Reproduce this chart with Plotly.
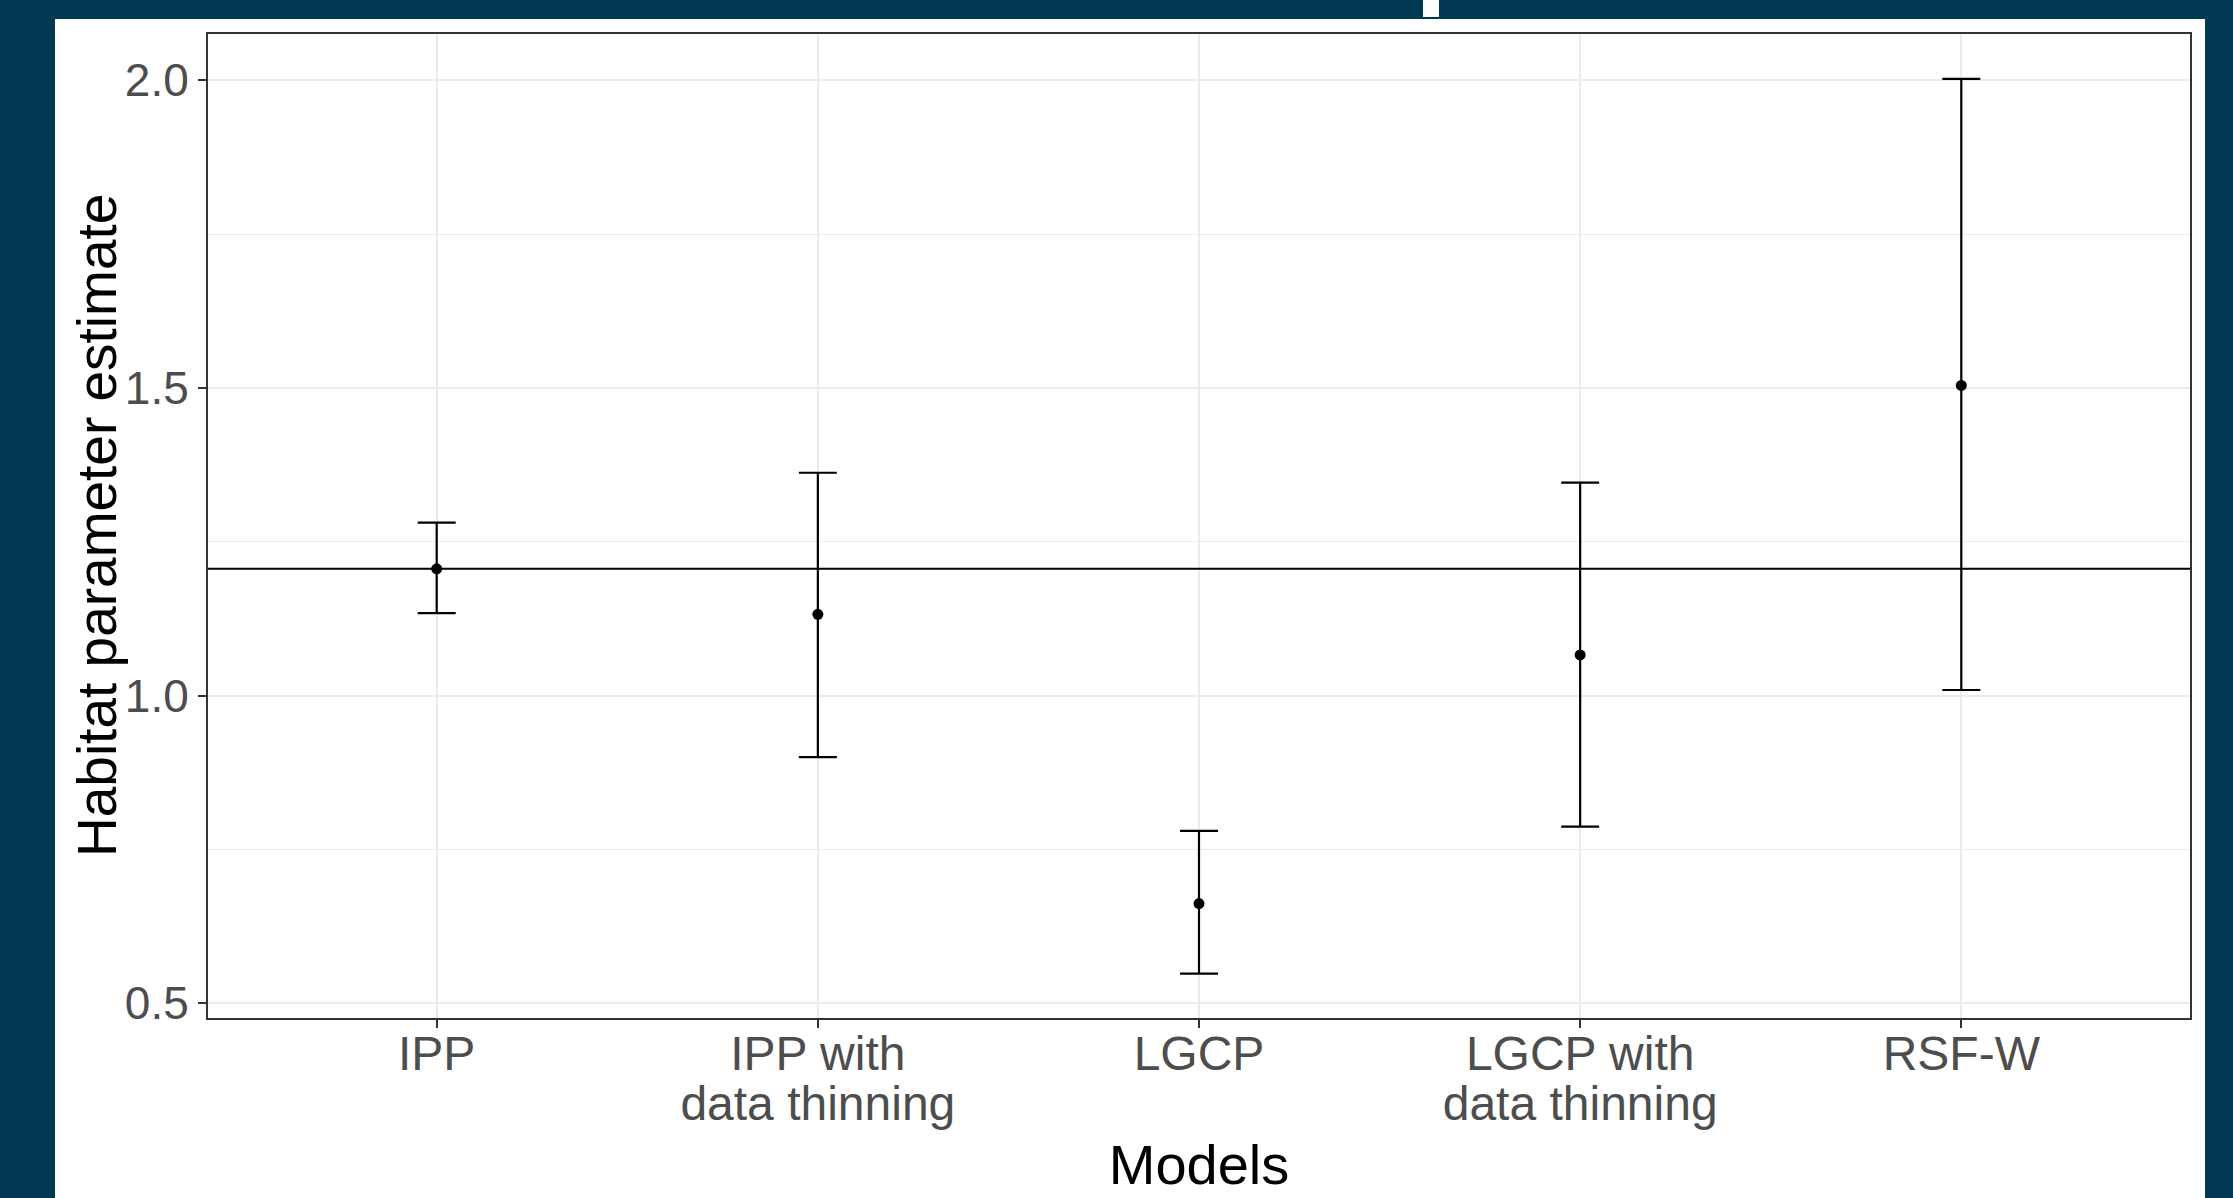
import plotly.graph_objects as go

# ---- data ----
models = ["IPP", "IPP with<br>data thinning", "LGCP", "LGCP with<br>data thinning", "RSF-W"]
estimate = [1.206, 1.132, 0.662, 1.066, 1.504]
lower = [1.134, 0.900, 0.548, 0.787, 1.009]
upper = [1.281, 1.362, 0.780, 1.346, 2.002]
true_value = 1.206
y_ticks = [0.5, 1.0, 1.5, 2.0]
y_tick_labels = ["0.5", "1.0", "1.5", "2.0"]

# ---- layout constants ----
W, H = 2233, 1198
ML, MR, MT, MB = 208, 43, 34, 180
FRAME = "#023952"
FONT = "Liberation Sans, Arial, Helvetica, sans-serif"
TICK_PX = 46          # glyph size of y tick labels
XTICK_PX = 48         # glyph size of x tick labels
LINE_BASE = 38.5      # base size -> controls line spacing of two-line labels


def px_x(px):
    return (px - ML) / (W - ML - MR)


def px_y(py):
    return (H - MB - py) / (H - MT - MB)


err_plus = [u - e for u, e in zip(upper, estimate)]
err_minus = [e - l for e, l in zip(estimate, lower)]

tick_text = ["<br>".join(f'<span style="font-size:{XTICK_PX}px">{part}</span>' for part in m.split("<br>"))
             for m in models]

fig = go.Figure()
fig.add_trace(go.Scatter(
    x=models, y=estimate, mode="markers",
    marker=dict(color="black", size=11),
    error_y=dict(type="data", symmetric=False, array=err_plus, arrayminus=err_minus,
                 color="black", thickness=2.2, width=19),
    showlegend=False,
))

shapes = [
    # white slide area
    dict(type="rect", xref="paper", yref="paper", x0=px_x(55), x1=px_x(2205),
         y0=px_y(H + 10), y1=px_y(19), fillcolor="white", line=dict(width=0), layer="below"),
    # small white mark at the top edge
    dict(type="rect", xref="paper", yref="paper", x0=px_x(1423), x1=px_x(1439),
         y0=px_y(17), y1=px_y(-10), fillcolor="white", line=dict(width=0), layer="below"),
    # reference line
    dict(type="line", xref="paper", yref="y", x0=0, x1=1, y0=true_value, y1=true_value,
         line=dict(color="black", width=2), layer="above"),
]

fig.update_layout(
    width=W, height=H,
    margin=dict(l=ML, r=MR, t=MT, b=MB, autoexpand=False),
    paper_bgcolor=FRAME, plot_bgcolor="white",
    font=dict(family=FONT, color="#4D4D4D"),
    shapes=shapes,
    xaxis=dict(
        type="category", range=[-0.6, 4.6],
        tickvals=models, ticktext=tick_text,
        showgrid=True, gridcolor="#EBEBEB", gridwidth=1.5,
        showline=True, linecolor="#333333", linewidth=2, mirror=True,
        ticks="outside", ticklen=8, tickwidth=2, tickcolor="#333333",
        tickfont=dict(size=LINE_BASE, color="#4D4D4D", family=FONT),
        ticklabelstandoff=-4,
        title=dict(text="Models", font=dict(size=56, color="black", family=FONT), standoff=16),
        zeroline=False, automargin=False,
    ),
    yaxis=dict(
        range=[0.476, 2.075],
        tickvals=y_ticks, ticktext=y_tick_labels,
        showgrid=True, gridcolor="#EBEBEB", gridwidth=1.5,
        minor=dict(dtick=0.25, tick0=0.25, showgrid=True, gridcolor="#EBEBEB", gridwidth=1.2, ticks=""),
        showline=True, linecolor="#333333", linewidth=2, mirror=True,
        ticks="outside", ticklen=8, tickwidth=2, tickcolor="#333333",
        tickfont=dict(size=TICK_PX, color="#4D4D4D", family=FONT),
        zeroline=False, automargin=False,
    ),
    annotations=[dict(
        text="Habitat parameter estimate", textangle=-90,
        xref="paper", yref="paper", x=px_x(97), y=0.5, xanchor="center", yanchor="middle",
        showarrow=False, font=dict(size=55, color="black", family=FONT),
    )],
)

fig.write_html("out.html", config={"displayModeBar": False},
               post_script="document.body.style.margin='0';document.body.style.overflow='hidden';")
